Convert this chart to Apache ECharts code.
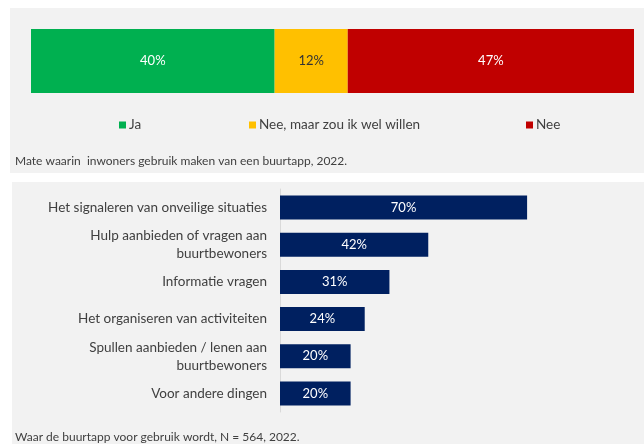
<!DOCTYPE html>
<html>
<head>
<meta charset="utf-8">
<script src="https://cdn.jsdelivr.net/npm/echarts@6/dist/echarts.min.js"></script>
<style>
  html, body { margin: 0; padding: 0; background: #fff; }
  #main { width: 644px; height: 444px; }
</style>
</head>
<body>
<div id="main"></div>
<script>
// gebruik buurtapp (bovenste grafiek)
var useNames = ['Ja', 'Nee, maar zou ik wel willen', 'Nee']
var useValues = [40, 12, 47]
var useColors = ['#00b050', '#ffc000', '#c00000']

// waarvoor wordt de buurtapp gebruikt (onderste grafiek)
var purposeCats = [
    'Het signaleren van onveilige situaties',
    'Hulp aanbieden of vragen aan\nbuurtbewoners',
    'Informatie vragen',
    'Het organiseren van activiteiten',
    'Spullen aanbieden / lenen aan\nbuurtbewoners',
    'Voor andere dingen'
]
var purposeValues = [70, 42, 31, 24, 20, 20]

var font = 'Lato'
var textColor = '#404040'

var myChart = echarts.init(document.getElementById('main'))

// legenda posities (handmatig, zoals in het origineel)
var legendLeft = [114, 244, 521]

var legends = useNames.map(function (n, i) {
    return {
        left: legendLeft[i],
        top: 113,
        data: [n],
        icon: 'rect',
        itemWidth: 7,
        itemHeight: 7,
        itemGap: 0,
        textStyle: { fontFamily: font, fontSize: 13.5, color: textColor, padding: [0, 0, 0, -2] }
    }
})

var topSeries = useNames.map(function (n, i) {
    return {
        name: n,
        type: 'bar',
        stack: 'gebruik',
        xAxisIndex: 0,
        yAxisIndex: 0,
        barWidth: 64,
        data: [useValues[i]],
        itemStyle: { color: useColors[i] },
        label: {
            show: true,
            position: 'inside',
            formatter: '{c}%',
            fontFamily: font,
            fontSize: 13,
            color: i === 1 ? '#333' : '#fff'
        }
    }
})

myChart.setOption({
    animation: false,
    graphic: [
        { type: 'rect', z: -10, shape: { x: 10, y: 8, width: 634, height: 165 }, style: { fill: '#f2f2f2' } },
        { type: 'rect', z: -10, shape: { x: 12, y: 182, width: 632, height: 262 }, style: { fill: '#f2f2f2' } },
        { type: 'text', left: 15, top: 155, style: { text: 'Mate waarin  inwoners gebruik maken van een buurtapp, 2022.', font: '12px ' + font, fill: textColor } },
        { type: 'text', left: 15, top: 431, style: { text: 'Waar de buurtapp voor gebruik wordt, N = 564, 2022.', font: '12px ' + font, fill: textColor } }
    ],
    legend: legends,
    grid: [
        { left: 31, right: 10, top: 29, height: 64 },
        { left: 280, right: 11, top: 189, height: 223 }
    ],
    xAxis: [
        { gridIndex: 0, type: 'value', min: 0, max: 99, show: false },
        { gridIndex: 1, type: 'value', min: 0, max: 100, show: false }
    ],
    yAxis: [
        { gridIndex: 0, type: 'category', data: [''], show: false },
        {
            gridIndex: 1,
            type: 'category',
            inverse: true,
            data: purposeCats,
            axisLine: { show: true, lineStyle: { color: '#d9d9d9' } },
            axisTick: { show: false },
            axisLabel: {
                fontFamily: font,
                fontSize: 13.5,
                color: textColor,
                margin: 13,
                lineHeight: 18,
                align: 'right'
            }
        }
    ],
    series: topSeries.concat([{
        name: 'gebruik',
        type: 'bar',
        xAxisIndex: 1,
        yAxisIndex: 1,
        barWidth: 24,
        data: purposeValues,
        itemStyle: { color: '#002060' },
        label: {
            show: true,
            position: 'inside',
            formatter: '{c}%',
            fontFamily: font,
            fontSize: 13,
            color: '#fff'
        }
    }])
})
</script>
</body>
</html>
